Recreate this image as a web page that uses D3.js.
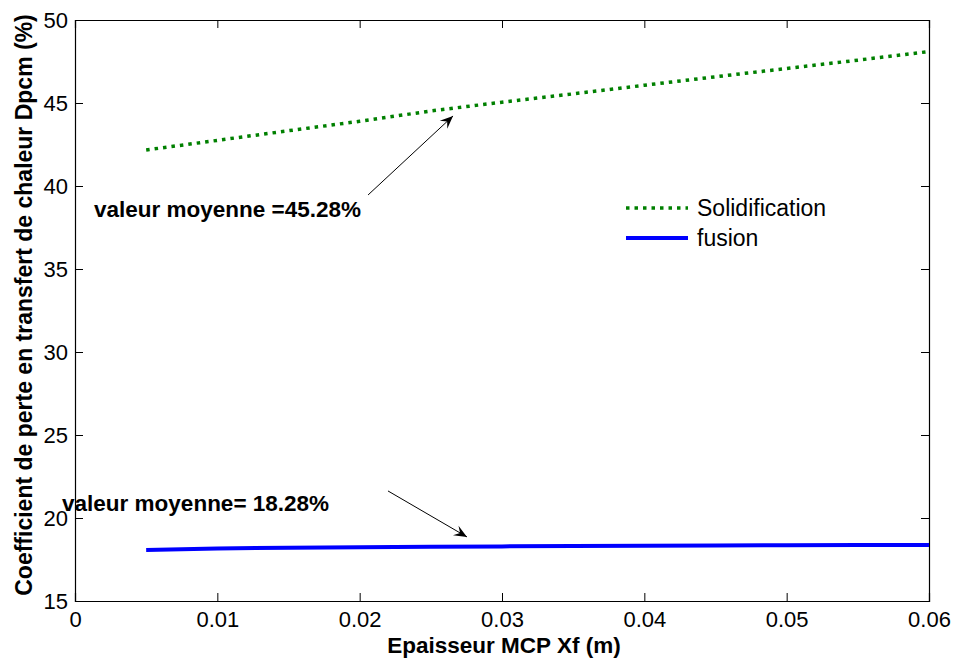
<!DOCTYPE html>
<html>
<head>
<meta charset="utf-8">
<script src="https://cdn.jsdelivr.net/npm/d3@7"></script>
<style>
  html, body { margin: 0; padding: 0; background: #fff; }
  svg { display: block; font-family: "Liberation Sans", Arial, sans-serif; }
</style>
</head>
<body>
<svg id="chart" width="955" height="658"></svg>
<script>
// Thickness of the PCM layer (m)
const thickness = [0.005, 0.01, 0.015, 0.02, 0.025, 0.03, 0.035, 0.04, 0.045, 0.05, 0.055, 0.06];
// Heat-transfer loss coefficient Dpcm (%)
const solidification = [42.17, 42.75, 43.33, 43.90, 44.52, 45.05, 45.55, 46.07, 46.58, 47.08, 47.58, 48.10];
const fusion = [18.07, 18.16, 18.21, 18.24, 18.27, 18.29, 18.31, 18.33, 18.34, 18.36, 18.37, 18.38];

const xTicks = [0, 0.01, 0.02, 0.03, 0.04, 0.05, 0.06];
const yTicks = [15, 20, 25, 30, 35, 40, 45, 50];

const seriesNames = ["Solidification", "fusion"];

// Annotations: text anchor and arrow tail/tip in data units
const noteTexts = ["valeur moyenne =45.28%", "valeur moyenne= 18.28%"];
const noteTextPos = [[0.00133, 38.13], [-0.00091, 20.45]];
const arrowTail = [[0.02059, 39.46], [0.02199, 21.63]];
const arrowTip = [[0.02656, 44.22], [0.02754, 18.86]];

const W = 955, H = 658;
const margin = { left: 75, top: 20, right: 26, bottom: 57 };
const iw = W - margin.left - margin.right;
const ih = H - margin.top - margin.bottom;

const svg = d3.select("#chart");
const g = svg.append("g").attr("transform", `translate(${margin.left},${margin.top})`);

const x = d3.scaleLinear().domain([0, 0.06]).range([0, iw]);
const y = d3.scaleLinear().domain([15, 50]).range([ih, 0]);

const tickFont = "22px";

// Bottom axis with inward ticks and labels
const xAxis = g.append("g").attr("transform", `translate(0,${ih})`)
  .call(d3.axisBottom(x).tickValues(xTicks).tickSize(-8).tickPadding(10)
    .tickFormat(d => d === 0 ? "0" : d3.format(".2f")(d)));
// Left axis
const yAxis = g.append("g")
  .call(d3.axisLeft(y).tickValues(yTicks).tickSize(-8).tickPadding(7).tickFormat(d3.format("d")));
// Top and right axes: ticks only
const xTop = g.append("g")
  .call(d3.axisTop(x).tickValues(xTicks).tickSize(-8).tickFormat(""));
const yRight = g.append("g").attr("transform", `translate(${iw},0)`)
  .call(d3.axisRight(y).tickValues(yTicks).tickSize(-8).tickFormat(""));

[xAxis, yAxis, xTop, yRight].forEach(a => {
  a.select(".domain").attr("stroke", "#000").attr("stroke-width", 1.2);
  a.selectAll(".tick line").attr("stroke", "#000").attr("stroke-width", 1);
  a.selectAll("text").attr("font-size", tickFont).attr("fill", "#000")
    .attr("font-family", "'Liberation Sans', Arial, sans-serif");
});

// Data lines
const line = d3.line().x(d => x(d[0])).y(d => y(d[1]));

g.append("path")
  .datum(thickness.map((t, i) => [t, solidification[i]]))
  .attr("d", line)
  .attr("fill", "none")
  .attr("stroke", "#008000")
  .attr("stroke-width", 3.5)
  .attr("stroke-dasharray", "3.5 5");

g.append("path")
  .datum(thickness.map((t, i) => [t, fusion[i]]))
  .attr("d", line)
  .attr("fill", "none")
  .attr("stroke", "#0000ff")
  .attr("stroke-width", 4);

// Axis titles
svg.append("text")
  .attr("x", margin.left + iw / 2 + 2)
  .attr("y", 653)
  .attr("text-anchor", "middle")
  .attr("font-size", "22.5px")
  .attr("font-weight", "bold")
  .text("Epaisseur MCP Xf (m)");

svg.append("text")
  .attr("transform", `translate(32,305) rotate(-90)`)
  .attr("text-anchor", "middle")
  .attr("font-size", "23px")
  .attr("font-weight", "bold")
  .text("Coefficient de perte en transfert de chaleur Dpcm (%)");

// Legend
const legend = g.append("g").attr("transform", "translate(551,188)");
const legendStyles = [
  { color: "#008000", dash: "3.5 5", width: 3.5 },
  { color: "#0000ff", dash: null, width: 4 }
];
seriesNames.forEach((name, i) => {
  const row = legend.append("g").attr("transform", `translate(0,${i * 30})`);
  row.append("line")
    .attr("x1", 0).attr("x2", 62).attr("y1", 0).attr("y2", 0)
    .attr("stroke", legendStyles[i].color)
    .attr("stroke-width", legendStyles[i].width)
    .attr("stroke-dasharray", legendStyles[i].dash);
  row.append("text")
    .attr("x", 71).attr("y", 8)
    .attr("font-size", "23px")
    .attr("fill", "#000")
    .text(name);
});

// Annotations with arrows
function arrowHead(tx, ty, fx, fy) {
  const ang = Math.atan2(ty - fy, tx - fx);
  const L = 13, Wd = 5.5, notch = 8;
  const c = Math.cos(ang), s = Math.sin(ang);
  const p = (a, b) => [tx - a * c + b * s, ty - a * s - b * c];
  const p1 = p(L, Wd), p2 = p(notch, 0), p3 = p(L, -Wd);
  return `M${tx},${ty}L${p1[0]},${p1[1]}L${p2[0]},${p2[1]}L${p3[0]},${p3[1]}Z`;
}

noteTexts.forEach((t, i) => {
  g.append("text")
    .attr("x", x(noteTextPos[i][0]))
    .attr("y", y(noteTextPos[i][1]))
    .attr("font-size", "22.5px")
    .attr("font-weight", "bold")
    .attr("fill", "#000")
    .text(t);
  const fx = x(arrowTail[i][0]), fy = y(arrowTail[i][1]);
  const tx = x(arrowTip[i][0]), ty = y(arrowTip[i][1]);
  g.append("line")
    .attr("x1", fx).attr("y1", fy).attr("x2", tx).attr("y2", ty)
    .attr("stroke", "#000").attr("stroke-width", 1);
  g.append("path")
    .attr("d", arrowHead(tx, ty, fx, fy))
    .attr("fill", "#000");
});
</script>
</body>
</html>
